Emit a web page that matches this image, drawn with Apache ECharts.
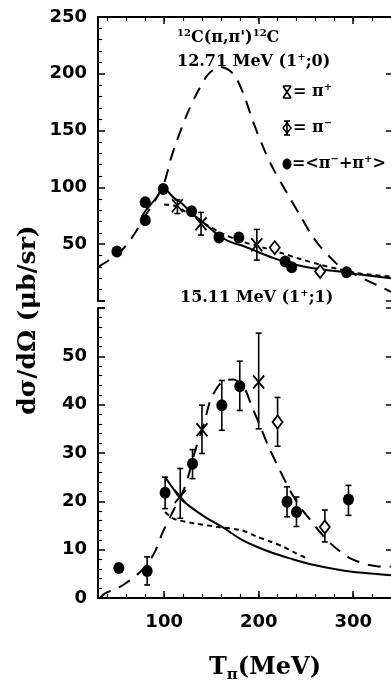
<!DOCTYPE html>
<html>
<head>
<meta charset="utf-8">
<script src="https://cdn.jsdelivr.net/npm/echarts@6/dist/echarts.min.js"></script>
<style>
  html, body { margin: 0; padding: 0; background: #fff; }
  #chart { width: 391px; height: 684px; }
</style>
</head>
<body>
<div id="chart"></div>
<script>
// x axis (pion kinetic energy, MeV)
const X_MIN = 30
const X_MAX = 340
const xMajorTicks = [100, 200, 300]
const xMinorTicks = [40, 60, 80, 100, 120, 140, 160, 180, 200, 220, 240, 260, 280, 300, 320, 340]

// ---- top panel: 12.71 MeV (1+;0) ----
const topAvgX = [50, 80, 80, 99, 129, 158, 179, 228, 235, 293]
const topAvgY = [43.5, 87, 71, 98.5, 79, 56, 56, 34.7, 29.7, 25.3]
const topPlusX = [114, 139, 198]
const topPlusY = [84, 68, 49.5]
const topPlusLo = [77, 58, 36]
const topPlusHi = [89, 78, 63]
const topMinusX = [217, 265]
const topMinusY = [47, 26]

const topDashX = [30, 40, 50, 60, 70, 80, 90, 100, 107, 113, 124, 136, 147, 159, 173, 184, 194, 205, 215, 230, 244, 256, 265, 275, 285, 300, 315, 328, 340]
const topDashY = [30, 35, 41, 49, 61, 75, 88, 104, 125, 140, 164, 185, 200, 206, 200, 182, 158, 135, 117, 95, 75, 58, 48, 39, 31, 24, 18, 13, 8]
const topSolidX = [76, 80, 90, 100, 110, 120, 128, 140, 150, 159, 170, 185, 198, 215, 233, 250, 270, 286, 305, 320, 340]
const topSolidY = [74, 79, 89, 98.5, 91, 85, 78, 70, 63, 57, 52, 48, 43.6, 38, 33.3, 30, 27.5, 25.9, 23.5, 22, 20]
const topDotX = [100, 110, 120, 143, 160, 180, 207, 225, 244, 265, 285, 304, 320, 340]
const topDotY = [85, 84, 80, 68, 60, 53, 46.5, 42, 37, 32, 28, 24.5, 23, 21.5]

// ---- bottom panel: 15.11 MeV (1+;1) ----
const botAvgX = [52, 82, 101, 130, 161, 180, 230, 240, 295]
const botAvgY = [6.2, 5.6, 21.8, 27.8, 39.9, 43.8, 19.9, 17.8, 20.4]
const botAvgLo = [null, 2.7, 18.5, 24.7, 34.7, 38.8, 16.8, 14.8, 17.1]
const botAvgHi = [null, 8.5, 25, 30.7, 45, 49, 23, 20.9, 23.3]
const botPlusX = [117, 140, 200]
const botPlusY = [21, 34.8, 44.7]
const botPlusLo = [16.5, 29.9, 35]
const botPlusHi = [26.8, 39.9, 54.8]
const botMinusX = [220, 270]
const botMinusY = [36.4, 14.7]
const botMinusLo = [31.4, 11.6]
const botMinusHi = [41.5, 18.2]

const botDashX = [32, 38, 50, 59, 70, 80, 90, 98, 110, 122, 133, 142, 149, 156, 163, 173, 184, 193, 202, 210, 219, 233, 245, 255, 265, 276, 287, 297, 310, 318, 330, 340]
const botDashY = [0, 1, 2, 3, 4.6, 6.5, 9.5, 13.4, 18.2, 23, 30.6, 36, 41, 43.5, 45, 45.2, 43.7, 39.5, 35.4, 31.5, 27.8, 22.3, 18.5, 16.1, 13.6, 11.3, 9.5, 8.2, 7.2, 6.8, 6.5, 6.5]
const botSolidX = [101, 110, 117, 127.5, 143, 163, 180, 198, 215, 233, 255, 286, 310, 340]
const botSolidY = [25, 22.5, 20.6, 18.9, 16.8, 14.5, 12.3, 10.6, 9.3, 8.2, 7.0, 5.8, 5.2, 4.7]
const botDotX = [101, 108, 115, 133, 157, 182, 198, 212, 226, 240, 250]
const botDotY = [17.8, 16.6, 16.1, 15.4, 14.7, 14, 12.7, 11.7, 10.6, 9.2, 8.3]

const NUM_FONT = '"DejaVu Sans"'
const TXT_FONT = '"DejaVu Serif"'

function zip(xs, ys) {
  return xs.map((x, i) => [x, ys[i]])
}

function curve(xs, ys, grid, dash) {
  return {
    type: 'line',
    xAxisIndex: grid === 0 ? 0 : 2,
    yAxisIndex: grid === 0 ? 0 : 2,
    data: zip(xs, ys),
    showSymbol: false,
    smooth: 0.3,
    lineStyle: { color: '#000', width: 2, type: dash, opacity: 1 },
    emphasis: { disabled: true },
    z: 2,
  }
}

function errorBars(xs, lo, hi, grid) {
  const data = xs.map((x, i) => [x, lo[i], hi[i]]).filter((d) => d[1] != null)
  return {
    type: 'custom',
    xAxisIndex: grid === 0 ? 0 : 2,
    yAxisIndex: grid === 0 ? 0 : 2,
    encode: { x: 0, y: [1, 2] },
    data,
    z: 3,
    renderItem(params, api) {
      const top = api.coord([api.value(0), api.value(2)])
      const bot = api.coord([api.value(0), api.value(1)])
      const cap = 3
      const style = { stroke: '#000', lineWidth: 1.6 }
      return {
        type: 'group',
        children: [
          { type: 'line', shape: { x1: top[0], y1: top[1], x2: bot[0], y2: bot[1] }, style },
          { type: 'line', shape: { x1: top[0] - cap, y1: top[1], x2: top[0] + cap, y2: top[1] }, style },
          { type: 'line', shape: { x1: bot[0] - cap, y1: bot[1], x2: bot[0] + cap, y2: bot[1] }, style },
        ],
      }
    },
  }
}

function points(xs, ys, grid, kind) {
  const s = {
    type: 'scatter',
    xAxisIndex: grid === 0 ? 0 : 2,
    yAxisIndex: grid === 0 ? 0 : 2,
    data: zip(xs, ys),
    emphasis: { disabled: true },
    z: 4,
  }
  if (kind === 'avg') {
    s.symbol = 'circle'
    s.symbolSize = [11, 12]
    s.itemStyle = { color: '#000', opacity: 1 }
  } else if (kind === 'plus') {
    s.symbol = 'path://M0,0L10,12M10,0L0,12'
    s.symbolSize = [11, 13]
    s.itemStyle = { color: 'rgba(0,0,0,0)', borderColor: '#000', borderWidth: 1.8, opacity: 1 }
  } else {
    s.symbol = 'diamond'
    s.symbolSize = [10, 13]
    s.itemStyle = { color: '#fff', borderColor: '#000', borderWidth: 1.8, opacity: 1 }
  }
  return s
}

function xAxisPair(grid, pos, withLabels) {
  const major = {
    type: 'value', gridIndex: grid, position: pos, min: X_MIN, max: X_MAX,
    axisLine: { show: true, onZero: false, lineStyle: { color: '#000', width: 2 } },
    axisTick: { show: true, inside: true, length: 7, customValues: xMajorTicks, lineStyle: { color: '#000', width: 1.5 } },
    axisLabel: withLabels
      ? { show: true, customValues: xMajorTicks, margin: 15, color: '#000', fontFamily: NUM_FONT, fontWeight: 'bold', fontSize: 18 }
      : { show: false },
    splitLine: { show: false },
  }
  const minor = {
    type: 'value', gridIndex: grid, position: pos, min: X_MIN, max: X_MAX,
    axisLine: { show: false, onZero: false },
    axisTick: { show: true, inside: true, length: 4, customValues: xMinorTicks, lineStyle: { color: '#000', width: 1.2 } },
    axisLabel: { show: false },
    splitLine: { show: false },
  }
  return [major, minor]
}

function yAxisPair(grid, max, interval, hideMin, hideMax) {
  const left = {
    type: 'value', gridIndex: grid, position: 'left', min: 0, max, interval,
    axisLine: { show: true, onZero: false, lineStyle: { color: '#000', width: 2 } },
    axisTick: { show: true, inside: true, length: 7, lineStyle: { color: '#000', width: 1.5 } },
    minorTick: { show: true, splitNumber: 5, length: 4, lineStyle: { color: '#000', width: 1.2 } },
    axisLabel: {
      show: true, margin: 11, color: '#000', fontFamily: NUM_FONT, fontWeight: 'bold', fontSize: 18,
      showMinLabel: !hideMin, showMaxLabel: !hideMax,
    },
    splitLine: { show: false },
  }
  const right = {
    type: 'value', gridIndex: grid, position: 'right', min: 0, max, interval,
    axisLine: { show: false },
    axisTick: { show: true, inside: true, length: 5, lineStyle: { color: '#000', width: 1.5 } },
    axisLabel: { show: false },
    splitLine: { show: false },
  }
  return [left, right]
}

const chart = echarts.init(document.getElementById('chart'), null, { renderer: 'canvas' })

const LONG_DASH = [13, 9]
const SHORT_DASH = [5, 4]

const series = [
  curve(topDashX, topDashY, 0, LONG_DASH),
  curve(topSolidX, topSolidY, 0, 'solid'),
  curve(topDotX, topDotY, 0, SHORT_DASH),
  errorBars(topPlusX, topPlusLo, topPlusHi, 0),
  points(topAvgX, topAvgY, 0, 'avg'),
  points(topPlusX, topPlusY, 0, 'plus'),
  points(topMinusX, topMinusY, 0, 'minus'),

  curve(botDashX, botDashY, 1, LONG_DASH),
  curve(botSolidX, botSolidY, 1, 'solid'),
  curve(botDotX, botDotY, 1, SHORT_DASH),
  errorBars(botAvgX, botAvgLo, botAvgHi, 1),
  errorBars(botPlusX, botPlusLo, botPlusHi, 1),
  errorBars(botMinusX, botMinusLo, botMinusHi, 1),
  points(botAvgX, botAvgY, 1, 'avg'),
  points(botPlusX, botPlusY, 1, 'plus'),
  points(botMinusX, botMinusY, 1, 'minus'),
]

const supStyle = { fontSize: 10, fontFamily: TXT_FONT, fontWeight: 'bold', verticalAlign: 'top', lineHeight: 10 }
const baseRich = { fontSize: 16, fontFamily: TXT_FONT, fontWeight: 'bold', lineHeight: 20 }

function label(x, y, text) {
  return {
    type: 'text', x, y, z: 10,
    style: {
      text,
      fill: '#000',
      fontSize: 16, fontFamily: TXT_FONT, fontWeight: 'bold',
      align: 'left', verticalAlign: 'middle',
      rich: { b: baseRich, s: supStyle },
    },
  }
}

const lineStyle = { stroke: '#000', lineWidth: 1.6 }
const legendMarks = [
  // pi+ : cross with caps
  { type: 'line', shape: { x1: 283, y1: 86, x2: 291, y2: 98 }, style: lineStyle },
  { type: 'line', shape: { x1: 291, y1: 86, x2: 283, y2: 98 }, style: lineStyle },
  { type: 'line', shape: { x1: 283, y1: 86, x2: 291, y2: 86 }, style: lineStyle },
  { type: 'line', shape: { x1: 283, y1: 98, x2: 291, y2: 98 }, style: lineStyle },
  // pi- : diamond with bar
  { type: 'polygon', shape: { points: [[287, 123], [291, 128], [287, 133], [283, 128]] }, style: { fill: '#fff', stroke: '#000', lineWidth: 1.6 } },
  { type: 'line', shape: { x1: 287, y1: 121, x2: 287, y2: 135 }, style: lineStyle },
  { type: 'line', shape: { x1: 284, y1: 121, x2: 290, y2: 121 }, style: lineStyle },
  { type: 'line', shape: { x1: 284, y1: 135, x2: 290, y2: 135 }, style: lineStyle },
  // average
  { type: 'ellipse', shape: { cx: 287, cy: 164, rx: 4.5, ry: 5.5 }, style: { fill: '#000' } },
  // short frame feet where the two panels meet
  { type: 'line', shape: { x1: 98, y1: 301, x2: 105, y2: 301 }, style: { stroke: '#000', lineWidth: 2 } },
  { type: 'line', shape: { x1: 98, y1: 308, x2: 105, y2: 308 }, style: { stroke: '#000', lineWidth: 2 } },
]

chart.setOption({
  animation: false,
  backgroundColor: '#fff',
  grid: [
    { left: 98, top: 17, width: 293, height: 284 },
    { left: 98, top: 308, width: 293, height: 290 },
  ],
  xAxis: [...xAxisPair(0, 'top', false), ...xAxisPair(1, 'bottom', true)],
  yAxis: [...yAxisPair(0, 250, 50, true, false), ...yAxisPair(1, 60, 10, false, true)],
  series,
  graphic: [
    label(177, 38, '{s|12}{b|C(π,π\')}{s|12}{b|C}'),
    label(177, 62, '{b|12.71 MeV (1}{s|+}{b|;0)}'),
    label(180, 298, '{b|15.11 MeV (1}{s|+}{b|;1)}'),
    label(293, 92, '{b|= π}{s|+}'),
    label(293, 128, '{b|= π}{s|−}'),
    label(292, 164, '{b|=<π}{s|−}{b|+π}{s|+}{b|>}'),
    ...legendMarks,
    {
      type: 'text', x: 28, y: 320, rotation: Math.PI / 2, z: 10,
      style: {
        text: 'dσ/dΩ (μb/sr)', fill: '#000',
        fontSize: 25, fontFamily: TXT_FONT, fontWeight: 'bold',
        align: 'center', verticalAlign: 'middle',
      },
    },
    {
      type: 'text', x: 265, y: 668, z: 10,
      style: {
        text: '{t|T}{p|π}{t|(MeV)}', fill: '#000',
        align: 'center', verticalAlign: 'middle',
        rich: {
          t: { fontSize: 24, fontFamily: TXT_FONT, fontWeight: 'bold', lineHeight: 30 },
          p: { fontSize: 15, fontFamily: TXT_FONT, fontWeight: 'bold', verticalAlign: 'bottom', lineHeight: 15 },
        },
      },
    },
  ],
})
</script>
</body>
</html>
